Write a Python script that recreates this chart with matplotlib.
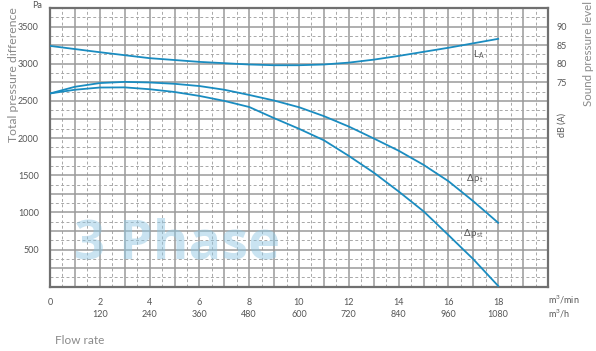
import matplotlib
matplotlib.use("Agg")
import matplotlib.pyplot as plt
import numpy as np

plt.rcParams["font.family"] = ["Lato", "DejaVu Sans"]
plt.rcParams["mathtext.fontset"] = "custom"
plt.rcParams["mathtext.rm"] = "Lato"
plt.rcParams["mathtext.it"] = "Lato"

# Flow rate in m3/min
flow = [0, 1, 2, 3, 4, 5, 6, 7, 8, 9, 10, 11, 12, 13, 14, 15, 16, 17, 18]
# Total pressure difference (Pa)
dp_total = [2600, 2690, 2740, 2756, 2748, 2730, 2700, 2650, 2580, 2505,
            2415, 2295, 2155, 1995, 1830, 1640, 1420, 1150, 860]
# Static pressure difference (Pa)
dp_static = [2600, 2650, 2680, 2682, 2657, 2620, 2567, 2500, 2418, 2268,
             2125, 1970, 1760, 1535, 1282, 1015, 695, 370, 10]
# Sound pressure level dB(A)
flow_la = [0, 2, 4, 6, 8, 9, 10, 11, 12, 13, 14, 15, 16, 17, 18]
sound_la = [84.8, 83.1, 81.5, 80.5, 79.8, 79.6, 79.6, 79.8, 80.3, 81.1,
            82.1, 83.2, 84.3, 85.5, 86.7]

x_ticks = [0, 2, 4, 6, 8, 10, 12, 14, 16, 18]
x_labels_h = ["", "120", "240", "360", "480", "600", "720", "840", "960", "1080"]
p_ticks = [500, 1000, 1500, 2000, 2500, 3000, 3500]
db_ticks = [75, 80, 85, 90]

blue = "#1a8cc0"
txt = "#555555"
lbl = "#8a8a8a"

fig = plt.figure(figsize=(5.96, 3.51), dpi=100)
ax = fig.add_axes([50 / 596, 1 - 286.7 / 351, 498 / 596, 278.7 / 351])
ax.set_xlim(0, 20)
ax.set_ylim(0, 3750)

# grid: solid every unit / 250 Pa, dashed in between
for xv in np.arange(1, 20, 1.0):
    ax.axvline(xv, color="#9a9a9a", lw=1.1, zorder=1)
for xv in np.arange(0.5, 20, 1.0):
    ax.axvline(xv, color="#a8a8a8", lw=0.7, ls=(0, (3, 2.5)), zorder=1)
for yv in np.arange(250, 3750, 250):
    ax.axhline(yv, color="#9a9a9a", lw=1.1, zorder=1)
for yv in np.arange(125, 3750, 250):
    ax.axhline(yv, color="#a8a8a8", lw=0.7, ls=(0, (3, 2.5)), zorder=1)

for s in ax.spines.values():
    s.set_color("#707070")
    s.set_linewidth(1.6)

ax.text(5.1, 565, "3 Phase", fontsize=39, fontweight="bold", color="#8fc6e2",
        alpha=0.48, ha="center", va="center", zorder=2,
        family=["Open Sans", "DejaVu Sans"])

ax.plot(flow, dp_total, color=blue, lw=1.3, zorder=4)
ax.plot(flow, dp_static, color=blue, lw=1.3, zorder=4)

ax.set_xticks(x_ticks)
ax.set_xticklabels([str(v) for v in x_ticks], fontsize=6.5, color=txt)
ax.set_yticks(p_ticks)
ax.set_yticklabels([str(v) for v in p_ticks], fontsize=6.5, color=txt)
ax.tick_params(axis="both", length=0)
ax.tick_params(axis="x", pad=8)
ax.tick_params(axis="y", pad=8)

for xv, lab in zip(x_ticks, x_labels_h):
    ax.text(xv, -0.098, lab, transform=ax.get_xaxis_transform(), ha="center",
            va="center", fontsize=6.5, color=txt)

ax.text(17.0, 3120, r"$\mathregular{L_A}$", fontsize=7, color=txt, ha="left", va="center", zorder=5)
ax.text(16.7, 1455, r"$\Delta\,\mathregular{p_t}$", fontsize=7, color=txt, ha="left", va="center", zorder=5)
ax.text(16.6, 712, r"$\Delta\,\mathregular{p_{st}}$", fontsize=7, color=txt, ha="left", va="center", zorder=5)

tw = ax.twinx()
tw.set_ylim(20, 95)
tw.plot(flow_la, sound_la, color=blue, lw=1.3, zorder=4)
tw.set_yticks(db_ticks)
tw.set_yticklabels([str(v) for v in db_ticks], fontsize=6.5, color=txt)
tw.tick_params(axis="y", length=0, pad=6)
for s in tw.spines.values():
    s.set_visible(False)

fig.text(42 / 596, 1 - 6 / 351, "Pa", fontsize=6.5, color=txt, ha="right", va="center")
fig.text(14 / 596, 1 - 75 / 351, "Total pressure difference", fontsize=8.8, color=lbl,
         rotation=90, ha="center", va="center")
fig.text(562 / 596, 1 - 125 / 351, "dB (A)", fontsize=6.5, color=txt,
         rotation=90, ha="center", va="center")
fig.text(589 / 596, 1 - 53 / 351, "Sound pressure level", fontsize=8.3, color=lbl,
         rotation=90, ha="center", va="center")
fig.text(548 / 596, 1 - 300 / 351, r"m$^3$/min", fontsize=6.5, color=txt, ha="left", va="center")
fig.text(548 / 596, 1 - 314 / 351, r"m$^3$/h", fontsize=6.5, color=txt, ha="left", va="center")
fig.text(55 / 596, 1 - 340 / 351, "Flow rate", fontsize=8.5, color=lbl,
         ha="left", va="center")

fig.savefig("out.png", dpi=100)
